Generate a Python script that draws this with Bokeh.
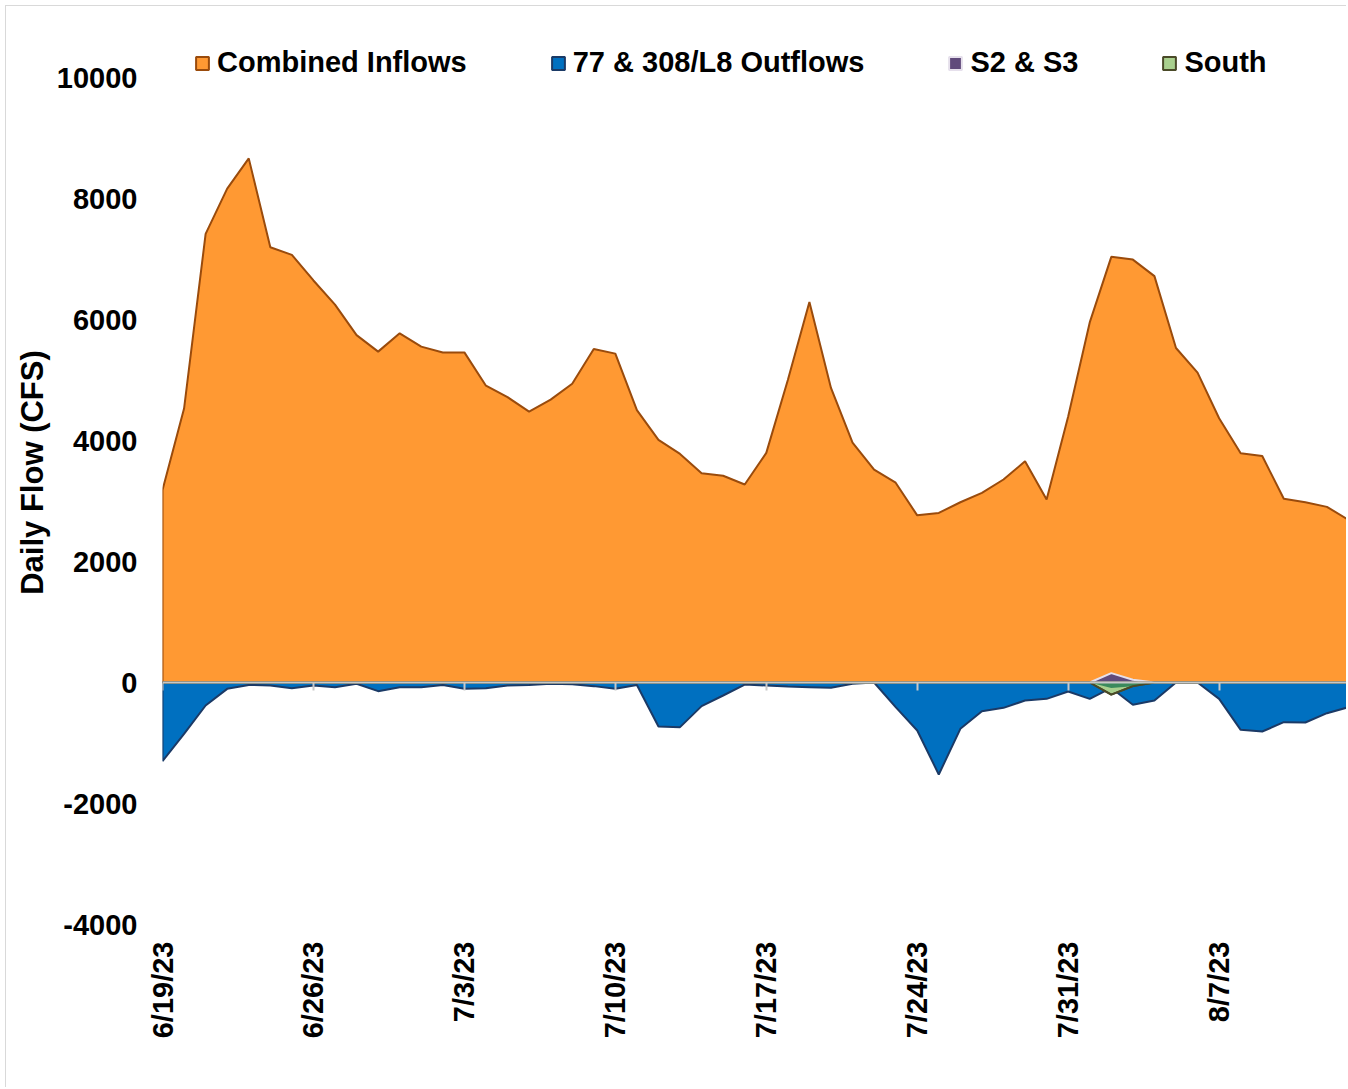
import numpy as np
from bokeh.plotting import figure
from bokeh.models import (Range1d, FixedTicker, LinearAxis, Legend, LegendItem)
from bokeh.embed import file_html
from bokeh.resources import INLINE

# ---------------- data ----------------
day = list(range(56))  # days since 6/19/23
tick_days = [0, 7, 14, 21, 28, 35, 42, 49]
tick_labels = ["6/19/23", "6/26/23", "7/3/23", "7/10/23", "7/17/23", "7/24/23", "7/31/23", "8/7/23"]
y_ticks = [-4000, -2000, 0, 2000, 4000, 6000, 8000, 10000]
y_tick_labels = ["-4000", "-2000", "0", "2000", "4000", "6000", "8000", "10000"]

combined_inflows = [3180, 4527, 7416, 8163, 8663, 7195, 7069, 6645, 6246, 5741,
                    5469, 5772, 5552, 5456, 5456, 4906, 4717, 4476, 4676, 4937,
                    5511, 5436, 4502, 4010, 3778, 3459, 3418, 3273, 3795, 5000,
                    6288, 4868, 3964, 3517, 3302, 2763, 2803, 2979, 3134, 3355,
                    3656, 3025, 4398, 5952, 7036, 6990, 6717, 5529, 5122, 4368,
                    3790, 3744, 3036, 2979, 2903, 2688]
outflows_77_308 = [-1300, -850, -380, -105, -40, -50, -94, -50, -77, -20,
                   -143, -77, -77, -40, -105, -94, -50, -40, -20, -30,
                   -60, -105, -40, -727, -738, -391, -215, -35, -50, -66,
                   -77, -88, -22, 0, -408, -793, -1521, -766, -474, -419,
                   -298, -270, -149, -270, -90, -369, -298, 0, 0, -270,
                   -782, -810, -656, -661, -507, -408]
s2_s3 = [0] * 43 + [0, 155, 45, 0] + [0] * 9
south = [0] * 43 + [0, -200, -60, 0] + [0] * 9

FONT = "Liberation Sans"

# ---------------- figure ----------------
y_top = 10000 + 57 * 14000 / 847
p = figure(width=1341, height=1082, output_backend="svg", toolbar_location=None,
           x_range=Range1d(0, 55 - 1 / 21.571), y_range=Range1d(-4000, y_top),
           min_border_left=156, min_border_right=0, min_border_top=14,
           min_border_bottom=164)
p.styles = {"margin-left": "5px", "margin-top": "5px",
            "border-left": "1px solid #D9D9D9", "border-top": "1px solid #D9D9D9"}
p.xgrid.visible = False
p.ygrid.visible = False
p.outline_line_color = None
p.background_fill_color = "white"


def area_poly(xv, yv):
    xs = list(xv) + list(xv)[::-1]
    ys = list(yv) + [0] * len(yv)
    return xs, ys


xs, ys = area_poly(day, combined_inflows)
r_in = p.patch(xs, ys, fill_color="#FF9933", line_color="#9A4B0C", line_width=2)
xs, ys = area_poly(day, outflows_77_308)
r_out = p.patch(xs, ys, fill_color="#0070C0", line_color="#1B3A66", line_width=2)
xs, ys = area_poly(day, s2_s3)
r_s2 = p.patch(xs, ys, fill_color="#604A7B", line_color="#E6E0EC", line_width=2)
xs, ys = area_poly(day, south)
r_so = p.patch(xs, ys, fill_color="#A9D08E", line_color="#4A4A28", line_width=2)
south_arr = np.array(south, dtype=float)
out_arr = np.array(outflows_77_308, dtype=float)
overlap = np.where(south_arr < 0, np.maximum(south_arr, out_arr), 0.0)
p.varea(x=day, y1=np.zeros(len(day)), y2=overlap, fill_color="#3A8A5C")
p.line(day, south, line_color="#4A4A28", line_width=2)

# ---------------- axes ----------------
xa = p.xaxis[0]
xa.ticker = FixedTicker(ticks=tick_days)
xa.major_label_overrides = {d: l for d, l in zip(tick_days, tick_labels)}
xa.major_label_orientation = np.pi / 2
xa.axis_line_color = None
xa.major_tick_line_color = None
xa.minor_tick_line_color = None
xa.major_label_standoff = 11
xa.major_label_text_font = FONT
xa.major_label_text_font_style = "bold"
xa.major_label_text_font_size = "29px"
xa.major_label_text_color = "black"

zero_axis = LinearAxis(fixed_location=0, ticker=FixedTicker(ticks=tick_days),
                       axis_line_color="#C8C8C8", axis_line_width=2,
                       major_tick_line_color="#C8C8C8", major_tick_line_width=2,
                       major_tick_in=0, major_tick_out=8,
                       minor_tick_line_color=None,
                       major_label_text_font_size="0px", major_label_text_alpha=0)
p.add_layout(zero_axis, "below")

ya = p.yaxis[0]
ya.ticker = FixedTicker(ticks=y_ticks)
ya.major_label_overrides = {t: l for t, l in zip(y_ticks, y_tick_labels)}
ya.axis_line_color = None
ya.major_tick_line_color = None
ya.minor_tick_line_color = None
ya.major_label_standoff = 19
ya.major_label_text_font = FONT
ya.major_label_text_font_style = "bold"
ya.major_label_text_font_size = "29px"
ya.major_label_text_color = "black"
ya.axis_label = "Daily Flow (CFS)"
ya.axis_label_text_font = FONT
ya.axis_label_text_font_style = "bold"
ya.axis_label_text_font_size = "31px"
ya.axis_label_text_color = "black"
ya.axis_label_standoff = 4

# ---------------- legend ----------------
legend = Legend(items=[LegendItem(label="Combined Inflows", renderers=[r_in]),
                       LegendItem(label="77 & 308/L8 Outflows", renderers=[r_out]),
                       LegendItem(label="S2 & S3", renderers=[r_s2]),
                       LegendItem(label="South", renderers=[r_so])],
                orientation="horizontal", location=(32, 845),
                spacing=83, label_standoff=7, glyph_width=16, glyph_height=16,
                padding=0, margin=0, border_line_alpha=0, background_fill_alpha=0,
                label_text_font=FONT, label_text_font_style="bold",
                label_text_font_size="29px", label_text_color="black")
p.add_layout(legend, "center")

open("out.html", "w").write(file_html(p, INLINE))
